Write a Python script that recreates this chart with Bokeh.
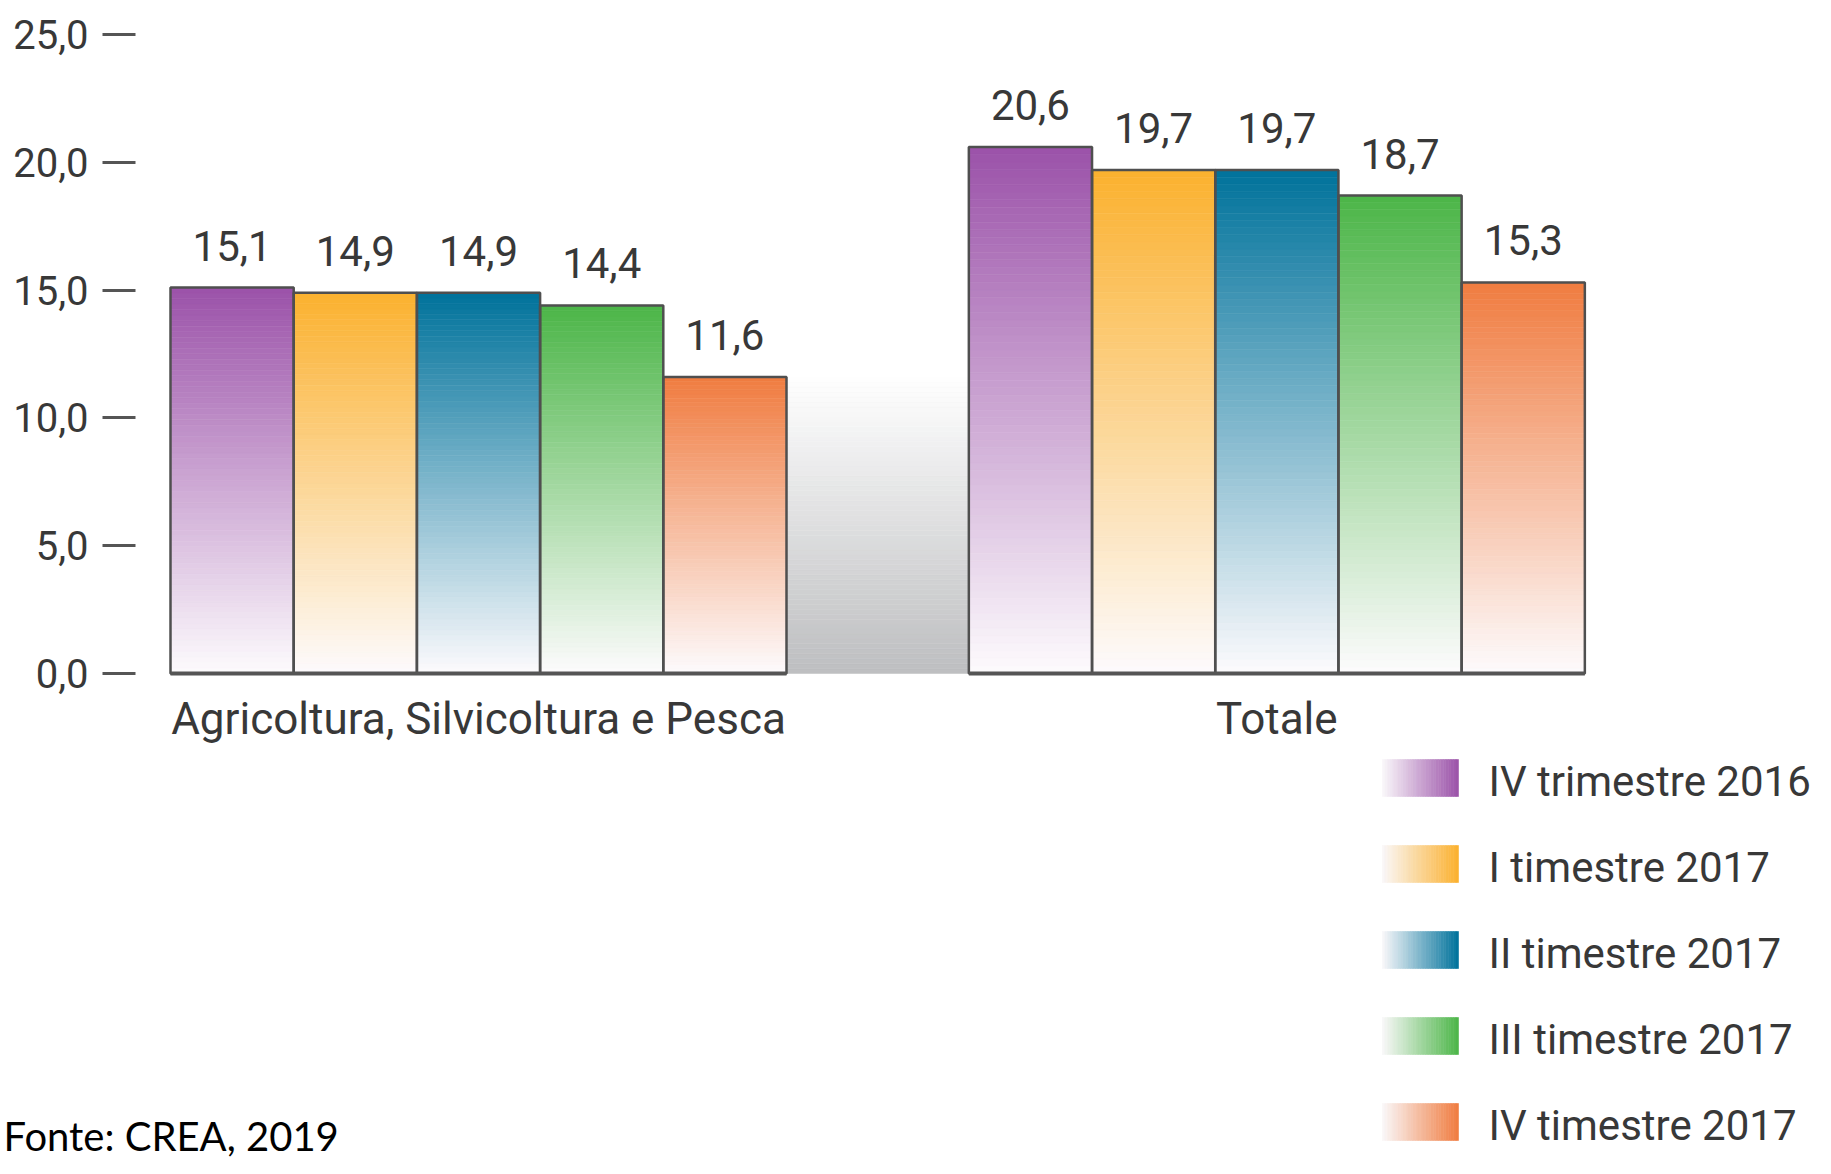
from bokeh.plotting import figure
from bokeh.models import Range1d, FixedTicker, Label, ColumnDataSource
from bokeh.core.properties import value
from bokeh.embed import file_html
from bokeh.resources import INLINE

# ---------------- data ----------------
categories = ["Agricoltura, Silvicoltura e Pesca", "Totale"]
series = ["IV trimestre 2016", "I timestre 2017", "II timestre 2017",
          "III timestre 2017", "IV timestre 2017"]
agricoltura = [15.1, 14.9, 14.9, 14.4, 11.6]
totale = [20.6, 19.7, 19.7, 18.7, 15.3]
y_ticks = [0, 5, 10, 15, 20, 25]
y_tick_labels = ["0,0", "5,0", "10,0", "15,0", "20,0", "25,0"]
source_note = "Fonte: CREA, 2019"

# ---------------- style ----------------
colors = ["#9B52A9", "#FBB12F", "#00729B", "#4CB648", "#F07C40"]
WHITE = (253, 251, 253)
TEXT = "#383838"
FONT = "Roboto"
GAP = 1.48
PX_X = 123.2   # px per bar
PX_Y = 25.56   # px per unit
W, H = 1815, 1158


def dx(px):
    return (px - 170) / PX_X


def dy(py):
    return (673 - py) / PX_Y


def hex2rgb(h):
    h = h.lstrip("#")
    return tuple(int(h[i:i + 2], 16) for i in (0, 2, 4))


def mix(c, t, base=WHITE):
    r = [round(base[k] + (c[k] - base[k]) * t) for k in range(3)]
    return "#%02x%02x%02x" % tuple(r)


p = figure(width=W, height=H, output_backend="svg", toolbar_location=None,
           x_range=Range1d(dx(0), dx(W)), y_range=Range1d(dy(H), dy(0)),
           min_border_left=0, min_border_right=0, min_border_top=0,
           min_border_bottom=0, x_axis_location=None)
p.grid.visible = False
p.outline_line_color = None
p.background_fill_color = "white"
p.border_fill_color = "white"

groups = [agricoltura, totale]
offsets = [g * (len(series) + GAP) for g in range(len(groups))]

# gray decorative band between the groups
band_top = min(min(g) for g in groups)
NB = 60
band = dict(left=[], right=[], bottom=[], top=[], color=[])
gray = hex2rgb("#BDBEC0")
for k in range(NB):
    band["left"].append(offsets[0] + len(series))
    band["right"].append(offsets[1])
    band["bottom"].append(band_top * k / NB)
    band["top"].append(band_top * (k + 1) / NB)
    band["color"].append(mix(gray, 1 - (k + 0.5) / NB, (255, 255, 255)))
p.quad(left="left", right="right", bottom="bottom", top="top", fill_color="color",
       line_color="color", line_width=0.5, source=ColumnDataSource(band))

# gradient bars
N = 70
grad = dict(left=[], right=[], bottom=[], top=[], color=[])
outl = dict(left=[], right=[], top=[])
lab = dict(x=[], y=[], text=[])
for g, vals in enumerate(groups):
    for i, v in enumerate(vals):
        c = hex2rgb(colors[i])
        l = offsets[g] + i
        for k in range(N):
            grad["left"].append(l)
            grad["right"].append(l + 1)
            grad["bottom"].append(v * k / N)
            grad["top"].append(v * (k + 1) / N)
            grad["color"].append(mix(c, (k + 0.5) / N))
        outl["left"].append(l)
        outl["right"].append(l + 1)
        outl["top"].append(v)
        lab["x"].append(l + 0.5)
        lab["y"].append(v)
        lab["text"].append(("%.1f" % v).replace(".", ","))

p.quad(left="left", right="right", bottom="bottom", top="top", fill_color="color",
       line_color="color", line_width=0.6, source=ColumnDataSource(grad))
p.quad(left="left", right="right", bottom=0, top="top", fill_color=None,
       line_color="#4f4f4f", line_width=2.5, source=ColumnDataSource(outl))
p.segment(x0=[o for o in offsets], x1=[o + len(series) for o in offsets],
          y0=[0, 0], y1=[0, 0], line_color="#555555", line_width=4)

p.text(x="x", y="y", text="text", source=ColumnDataSource(lab),
       text_align="center", text_baseline="alphabetic", y_offset=-42,
       text_font=value(FONT), text_font_size="42px", text_color=TEXT)

# category labels
p.text(x=[o + len(series) / 2 for o in offsets], y=[0, 0], text=categories,
       text_align="center", text_baseline="alphabetic", y_offset=45,
       text_font=value(FONT), text_font_size="44px", text_color=TEXT)

# legend (gradient swatches)
M = 30
leg = dict(left=[], right=[], bottom=[], top=[], color=[])
leg_txt = dict(x=[], y=[], text=[])
for i, name in enumerate(series):
    c = hex2rgb(colors[i])
    top_px = 759 + 86 * i
    L, R = 1382, 1458
    for j in range(M):
        leg["left"].append(dx(L + (R - L) * j / M))
        leg["right"].append(dx(L + (R - L) * (j + 1) / M))
        leg["bottom"].append(dy(top_px + 37))
        leg["top"].append(dy(top_px))
        leg["color"].append(mix(c, (j + 0.5) / M, (250, 248, 250)))
    leg_txt["x"].append(dx(1488))
    leg_txt["y"].append(dy(top_px + 22))
    leg_txt["text"].append(name)
p.quad(left="left", right="right", bottom="bottom", top="top", fill_color="color",
       line_color="color", line_width=0.6, source=ColumnDataSource(leg))
p.text(x="x", y="y", text="text", source=ColumnDataSource(leg_txt),
       text_align="left", text_baseline="alphabetic",
       text_font=value(FONT), text_font_size="42px", text_color=TEXT)

# y axis drawn at a fixed location inside the frame
ax = p.yaxis[0]
ax.fixed_location = dx(135)
ax.ticker = FixedTicker(ticks=y_ticks)
ax.major_label_overrides = {t: s for t, s in zip(y_ticks, y_tick_labels)}
ax.axis_line_color = None
ax.major_tick_in = 0
ax.major_tick_out = 33
ax.major_tick_line_width = 3
ax.major_tick_line_color = "#555555"
ax.minor_tick_line_color = None
ax.major_label_standoff = 14
ax.major_label_text_font = FONT
ax.major_label_text_font_size = "40px"
ax.major_label_text_color = TEXT

# source note
p.add_layout(Label(x=dx(3), y=dy(1135), text=source_note, text_align="left",
                   text_baseline="alphabetic", text_font="Lato",
                   text_font_size="40px", text_color="#000000"))

open("out.html", "w").write(file_html(p, INLINE))
